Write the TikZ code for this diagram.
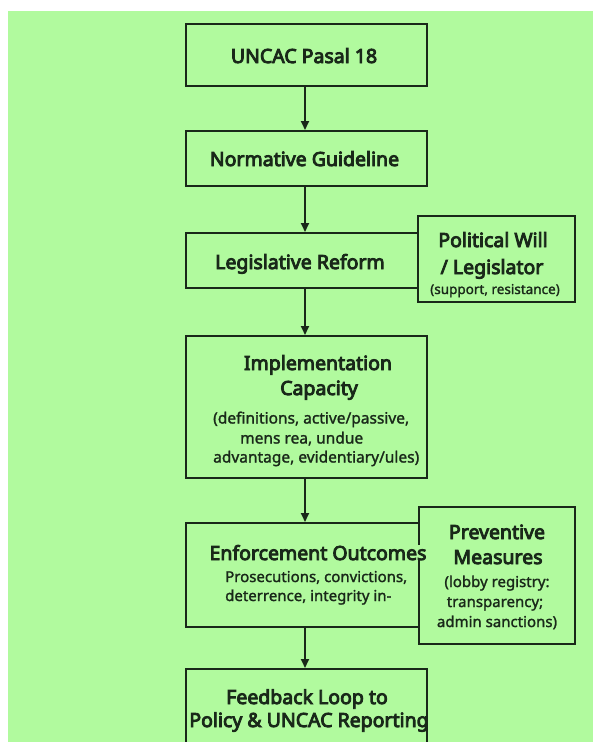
\documentclass[tikz,border=0pt]{standalone}
\usepackage{fontspec}
\setmainfont{Noto Sans}[FakeBold=1.5]
\newfontfamily\tf{Noto Sans}[FakeBold=4.5]
\usetikzlibrary{arrows.meta}
\definecolor{bg}{RGB}{177,250,158}
\definecolor{ink}{RGB}{25,40,25}
\begin{document}
\begin{tikzpicture}[x=1pt,y=-1pt,
  box/.style={draw=ink,line width=2pt,fill=bg,inner sep=0pt},
  ttl/.style={text=ink,font=\tf\fontsize{19.5}{24}\selectfont,inner sep=0pt,anchor=base},
  sub/.style={text=ink,font=\fontsize{15}{18}\selectfont,inner sep=0pt,anchor=base},
  arr/.style={draw=ink,line width=1.8pt,-{Triangle[length=9pt,width=8pt]}}]
\useasboundingbox (0,0) rectangle (593,742);
\clip (0,0) rectangle (593,742);
\fill[white] (0,0) rectangle (593,742);
\fill[bg] (8,11) rectangle (593,742);

% boxes
\node[box,minimum width=241pt,minimum height=62pt] (uncac) at (306.5,55) {};
\node[box,minimum width=241pt,minimum height=55pt] (norm) at (306.5,158.5) {};
\node[box,minimum width=241pt,minimum height=55pt] (legis) at (306.5,260.5) {};
\node[box,minimum width=157pt,minimum height=86pt] (polit) at (496.5,259) {};
\node[box,minimum width=241pt,minimum height=142pt] (impl) at (306.5,407) {};
\node[box,minimum width=241pt,minimum height=104pt] (enf) at (306.5,575) {};
\node[box,minimum width=156pt,minimum height=137pt] (prev) at (497,575.5) {};
\node[box,minimum width=241pt,minimum height=92pt] (feed) at (306.5,715) {};

% connectors
\draw[arr] ([xshift=-1.5pt]uncac.south) -- ([xshift=-1.5pt]norm.north);
\draw[arr] ([xshift=-1.5pt]norm.south) -- ([xshift=-1.5pt]legis.north);
\draw[arr] ([xshift=-1.5pt]legis.south) -- ([xshift=-1.5pt]impl.north);
\draw[arr] ([xshift=-1.5pt]impl.south) -- ([xshift=-1.5pt]enf.north);
\draw[arr] ([xshift=-1.5pt]enf.south) -- ([xshift=-1.5pt]feed.north);

% texts
\node[ttl] (t1) at (304,63) {UNCAC Pasal 18};
\node[ttl] (t2) at (304.5,166) {Normative Guideline};
\node[ttl] (t3) at (300,269) {Legislative Reform};
\node[ttl] (t4a) at (493,247) {Political Will};
\node[ttl] (t4b) at (492,274) {/ Legislator};
\node[sub,font=\fontsize{13.5}{16}\selectfont] (t4c) at (495,294) {(support, resistance)};
\node[ttl] (t5a) at (318,370) {Implementation};
\node[ttl] (t5b) at (319,395) {Capacity};
\node[sub,anchor=base west,font=\fontsize{15.5}{18}\selectfont] (t5c) at (213,423.5) {(definitions, active/passive,};
\node[sub,anchor=base west,font=\fontsize{15.5}{18}\selectfont] (t5d) at (240,443.5) {mens rea, undue};
\node[sub,anchor=base west,font=\fontsize{15.5}{18}\selectfont] (t5e) at (213,462.5) {advantage, evidentiary/ules)};
\node[ttl] (t7a) at (497,539) {Preventive};
\node[ttl] (t7b) at (498,564) {Measures};
\node[sub] (t7c) at (497,587) {(lobby registry:};
\node[sub] (t7d) at (495,607) {transparency;};
\node[sub] (t7e) at (497,627) {admin sanctions)};
\node[ttl,fill=bg] (t6a) at (318,560) {Enforcement Outcomes};
\node[sub,anchor=base west] (t6b) at (225,582) {Prosecutions, convictions,};
\node[sub,anchor=base west] (t6c) at (225,601) {deterrence, integrity in-};
\node[ttl] (t8a) at (307,704) {Feedback Loop to};
\node[ttl] (t8b) at (309,727) {Policy \& UNCAC Reporting};
\end{tikzpicture}
\end{document}
